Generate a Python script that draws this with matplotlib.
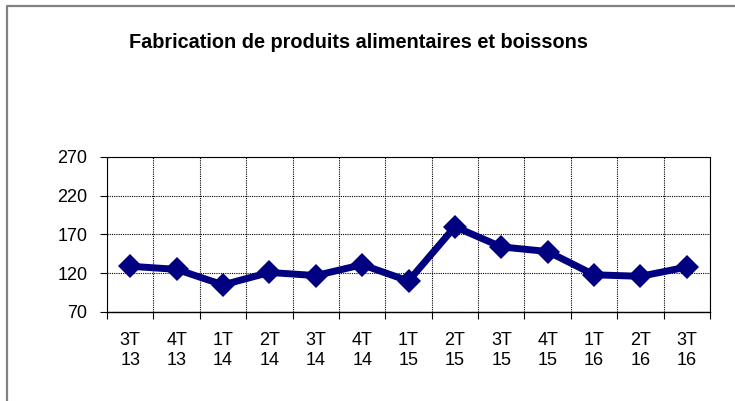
import matplotlib.pyplot as plt
from matplotlib.lines import Line2D

plt.rcParams['font.family'] = ['Liberation Sans', 'DejaVu Sans']

quarters = ["3T\n13", "4T\n13", "1T\n14", "2T\n14", "3T\n14", "4T\n14", "1T\n15",
            "2T\n15", "3T\n15", "4T\n15", "1T\n16", "2T\n16", "3T\n16"]
values = [129, 125, 105, 121, 117, 131, 110, 180, 154, 148, 118, 116, 128]
yticks = [70, 120, 170, 220, 270]

fig = plt.figure(figsize=(7.35, 4.01), dpi=100)
# chart frame, only top and left edges show in the picture
fig.lines.append(Line2D([0.009, 0.009, 1.0], [0.0, 0.986, 0.986], transform=fig.transFigure,
                        color="#808080", linewidth=1.6))

ax = fig.add_axes([0.1456, 0.222, 0.8204, 0.3865])
x = list(range(len(values)))
ax.plot(x, values, color="#000080", linewidth=5, marker="D", markersize=12.5,
        markeredgewidth=0, zorder=3)

ax.set_xlim(-0.5, len(values) - 0.5)
ax.set_ylim(70, 270)
ax.set_yticks(yticks)
ax.set_yticklabels([str(v) for v in yticks], fontsize=13)

# ticks at category boundaries, labels at centres
ax.set_xticks([i - 0.5 for i in range(len(values) + 1)])
ax.set_xticklabels([])
ax.set_xticks(x, minor=True)
ax.set_xticklabels(quarters, minor=True, fontsize=13)
ax.tick_params(axis="x", which="major", length=5, direction="out", color="black")
ax.tick_params(axis="x", which="minor", length=0, pad=14.5)
ax.tick_params(axis="y", length=5, direction="out", pad=9)

ax.grid(True, which="major", color="black", linestyle=(0, (1, 1)), linewidth=0.8)
for side in ["top", "right", "left"]:
    ax.spines[side].set_linestyle((0, (1, 1)))
    ax.spines[side].set_linewidth(0.8)
ax.spines["bottom"].set_linewidth(1.0)

fig.text(0.488, 0.895, "Fabrication de produits alimentaires et boissons",
         ha="center", va="center", fontsize=14.3, fontweight="bold")

fig.savefig("out.png", dpi=100)
